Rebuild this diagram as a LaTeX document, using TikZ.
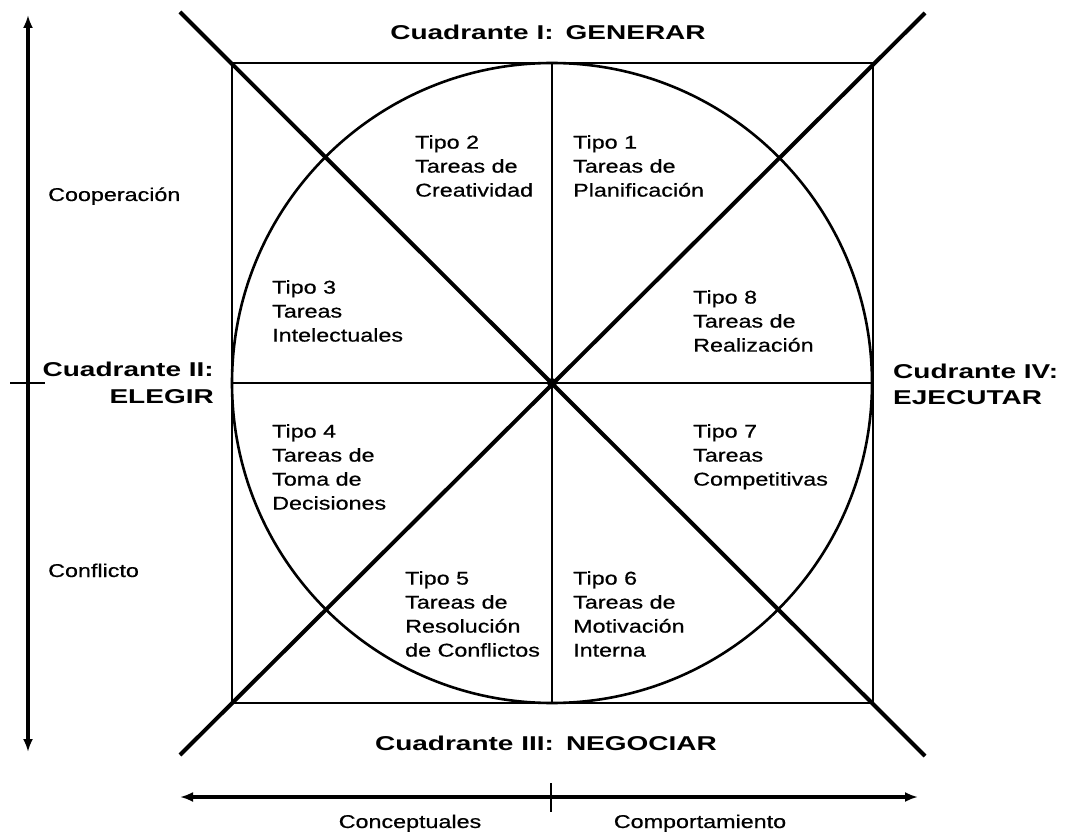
\documentclass[tikz,border=0pt]{standalone}
\usepackage{fontspec}
\setmainfont{Liberation Sans}
\newfontfamily\rfont{Liberation Sans}[FakeStretch=1.26,FakeBold=0.6]
\newfontfamily\tfont{Liberation Sans}[FakeStretch=1.4]
\usetikzlibrary{arrows.meta}
\begin{document}
\begin{tikzpicture}[x=1pt,y=-1pt,
  tipo/.style={anchor=north west, inner sep=0pt, align=left,
               font=\rfont\fontsize{18.5}{24}\selectfont},
  lado/.style={inner sep=0pt, font=\rfont\fontsize{18.5}{24}\selectfont},
  titulo/.style={inner sep=0pt, font=\tfont\bfseries\fontsize{20}{27}\selectfont},
  marco/.style={line width=2.6pt},
  diag/.style={line width=4pt},
  eje/.style={line width=3.2pt, {Latex[length=13pt,width=10pt]}-{Latex[length=13pt,width=10pt]}},
  marca/.style={line width=2.6pt}]
\useasboundingbox (0,0) rectangle (1069,834);

% frame geometry
\coordinate (C)  at (552,383);
\coordinate (TL) at (232,63);
\coordinate (BR) at (873,703);
\coordinate (Nt) at (552,63);
\coordinate (Sb) at (552,703);
\coordinate (Wl) at (232,383);
\coordinate (Er) at (873,383);
\coordinate (D1a) at (180,12);
\coordinate (D1b) at (925,756);
\coordinate (D2a) at (925,13);
\coordinate (D2b) at (180,755);

% square, circle and the two axes through the centre
\draw[marco] (TL) rectangle (BR);
\draw[marco] (C) circle[radius=320];
\draw[marco] (Nt) -- (Sb);
\draw[marco] (Wl) -- (Er);

% diagonals
\draw[diag] (D1a) -- (D1b);
\draw[diag] (D2a) -- (D2b);
\fill (C) circle[radius=5];

% vertical scale on the left
\coordinate (Vt) at (28,15);
\coordinate (Vb) at (28,752);
\coordinate (Vm1) at (10,383);
\coordinate (Vm2) at (45,383);
\draw[eje] (Vt) -- (Vb);
\draw[marca] (Vm1) -- (Vm2);

% horizontal scale at the bottom
\coordinate (Hl) at (180,797);
\coordinate (Hr) at (918,797);
\coordinate (Hm1) at (551,783);
\coordinate (Hm2) at (551,812);
\draw[eje] (Hl) -- (Hr);
\draw[marca] (Hm1) -- (Hm2);

% quadrant titles
\node[titulo, anchor=base] (q1) at (548,40) {Cuadrante I:\hspace{0.6em}GENERAR};
\node[titulo, anchor=base] (q3) at (546,750) {Cuadrante III:\hspace{0.6em}NEGOCIAR};
\node[titulo, anchor=base east] (q2a) at (214,377) {Cuadrante II:};
\node[titulo, anchor=base east] (q2b) at (214,404) {ELEGIR};
\node[titulo, anchor=base west] (q4a) at (893,379) {Cudrante IV:};
\node[titulo, anchor=base west] (q4b) at (893,405) {EJECUTAR};

% scale labels
\node[lado, anchor=base west] (coop) at (48,201) {Cooperación};
\node[lado, anchor=base west] (conf) at (48,577) {Conflicto};
\node[lado, anchor=base] (concep) at (410,828) {Conceptuales};
\node[lado, anchor=base] (compor) at (700,828) {Comportamiento};

% task types
\node[tipo] (t2) at (415,135) {Tipo 2\\Tareas de\\Creatividad};
\node[tipo] (t1) at (573,135) {Tipo 1\\Tareas de\\Planificación};
\node[tipo] (t3) at (272,280) {Tipo 3\\Tareas\\Intelectuales};
\node[tipo] (t8) at (693,290) {Tipo 8\\Tareas de\\Realización};
\node[tipo] (t4) at (272,424) {Tipo 4\\Tareas de\\Toma de\\Decisiones};
\node[tipo] (t7) at (693,424) {Tipo 7\\Tareas\\Competitivas};
\node[tipo] (t5) at (405,571) {Tipo 5\\Tareas de\\Resolución\\de Conflictos};
\node[tipo] (t6) at (573,571) {Tipo 6\\Tareas de\\Motivación\\Interna};
\end{tikzpicture}
\end{document}
